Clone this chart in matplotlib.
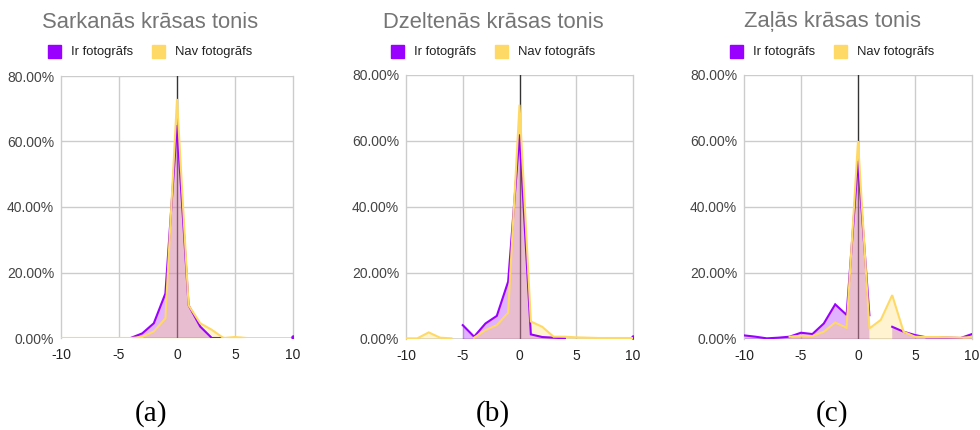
import numpy as np
import matplotlib
matplotlib.use("Agg")
import matplotlib.pyplot as plt

nan = np.nan
x_vals = list(range(-10, 11))

titles = ["Sarkanās krāsas tonis", "Dzeltenās krāsas tonis", "Zaļās krāsas tonis"]
captions = ["(a)", "(b)", "(c)"]
series_names = ["Ir fotogrāfs", "Nav fotogrāfs"]

# values in percent, x = -10 .. 10 (nan = no data)
red_ir = [nan, nan, nan, nan, nan, nan, 0.0, 1.4, 4.5, 13.6, 65.0,
          10.0, 3.5, 0.0, 0.0, nan, nan, nan, nan, nan, 0.4]
red_nav = [0.0, 0.0, 0.0, 0.0, 0.0, 0.0, 0.0, 0.3, 2.0, 6.0, 73.0,
           10.0, 4.5, 2.5, 0.0, 0.3, 0.0, nan, nan, nan, nan]

yel_ir = [nan, nan, nan, nan, nan, 4.2, 0.7, 4.7, 7.0, 17.4, 62.0,
          1.4, 0.6, 0.4, 0.2, nan, nan, nan, nan, nan, 0.7]
yel_nav = [0.2, 0.2, 2.0, 0.4, 0.2, nan, 0.4, 2.7, 4.2, 8.0, 71.0,
           5.3, 3.7, 0.7, 0.7, 0.5, 0.4, 0.3, 0.3, 0.3, 0.3]

grn_ir = [1.1, 0.7, 0.2, 0.4, 0.7, 1.9, 1.5, 4.7, 10.5, 7.3, 54.0,
          7.2, nan, 3.7, 2.2, 1.2, 0.5, 0.5, 0.4, 0.3, 1.5]
grn_nav = [nan, nan, nan, nan, 0.7, 1.0, 0.9, 2.2, 5.0, 3.4, 60.0,
           3.2, 5.8, 13.3, 2.2, 0.7, 0.6, 0.6, 0.5, 0.4, 0.6]

data = [(red_ir, red_nav), (yel_ir, yel_nav), (grn_ir, grn_nav)]

y_ticks = [0, 20, 40, 60, 80]
y_ticklabels = ["0.00%", "20.00%", "40.00%", "60.00%", "80.00%"]
x_ticks = [-10, -5, 0, 5, 10]

colors = ["#9900ff", "#ffd966"]

W, H = 980, 430
fig = plt.figure(figsize=(W / 100, H / 100), dpi=100)
fig.patch.set_facecolor("white")

# axes boxes in pixels: left, top, right, bottom
boxes = [(61, 76, 293, 338), (406, 75, 633, 339), (744, 75, 972, 339)]
centers = [150.5, 493, 832]

font = "Liberation Sans"

for i, (box, (ir, nav)) in enumerate(zip(boxes, data)):
    l, t, r, b = box
    ax = fig.add_axes([l / W, 1 - b / H, (r - l) / W, (b - t) / H])
    ax.set_xlim(-10, 10)
    ax.set_ylim(0, 80)
    x = np.array(x_vals, dtype=float)
    for s, vals in enumerate([ir, nav]):
        v = np.array(vals, dtype=float)
        ax.fill_between(x, 0, v, where=~np.isnan(v), color=colors[s],
                        alpha=0.3, linewidth=0, zorder=2 + s, interpolate=False)
        ax.plot(x, v, color=colors[s], lw=1.5, zorder=4 + s,
                solid_joinstyle="miter")
        # isolated points
        for k in range(len(v)):
            if not np.isnan(v[k]):
                left_nan = k == 0 or np.isnan(v[k - 1])
                right_nan = k == len(v) - 1 or np.isnan(v[k + 1])
                if left_nan and right_nan:
                    ax.plot([x[k]], [v[k]], marker="o", ms=2.2,
                            color=colors[s], zorder=4 + s)
    # grid
    for gx in [-5, 5]:
        ax.axvline(gx, color="#cccccc", lw=1.0, zorder=1)
    for gy in [20, 40, 60, 80]:
        ax.axhline(gy, color="#cccccc", lw=1.0, zorder=1)
    ax.axvline(0, color="#333333", lw=1.0, zorder=1.5)
    ax.axhline(0, color="#333333", lw=1.0, zorder=1.5)
    for side in ["left", "right"]:
        ax.spines[side].set_color("#cccccc")
        ax.spines[side].set_linewidth(1.0)
    ax.spines["top"].set_visible(False)
    ax.spines["bottom"].set_visible(False)
    ax.set_xticks(x_ticks)
    ax.set_xticklabels([str(v) for v in x_ticks], fontsize=10,
                       fontfamily=font, color="#222222")
    ax.set_yticks(y_ticks)
    ax.set_yticklabels(y_ticklabels, fontsize=10, fontfamily=font,
                       color="#444444")
    ax.tick_params(axis="x", length=0, pad=7)
    ax.tick_params(axis="y", length=0, pad=5)

    cx = centers[i]
    fig.text(cx / W, 1 - 22 / H, titles[i], ha="center", va="center",
             fontsize=15.8, fontfamily=font, color="#757575")
    # legend
    lw_total = 205
    x0 = cx - lw_total / 2
    sq = 13
    for s, (name, xo, xt) in enumerate(zip(series_names, [0, 104], [23, 127])):
        fig.patches.append(plt.Rectangle(((x0 + xo) / W, 1 - (51.5 + sq / 2) / H),
                                         sq / W, sq / H, transform=fig.transFigure,
                                         color=colors[s], figure=fig))
        fig.text((x0 + xt) / W, 1 - 51.5 / H, name, ha="left", va="center",
                 fontsize=9.4, fontfamily=font, color="#222222")
    fig.text(cx / W, 1 - 414 / H, captions[i], ha="center", va="center",
             fontsize=21, fontfamily="Liberation Serif", color="black")

fig.savefig("out.png", dpi=100, facecolor="white")
